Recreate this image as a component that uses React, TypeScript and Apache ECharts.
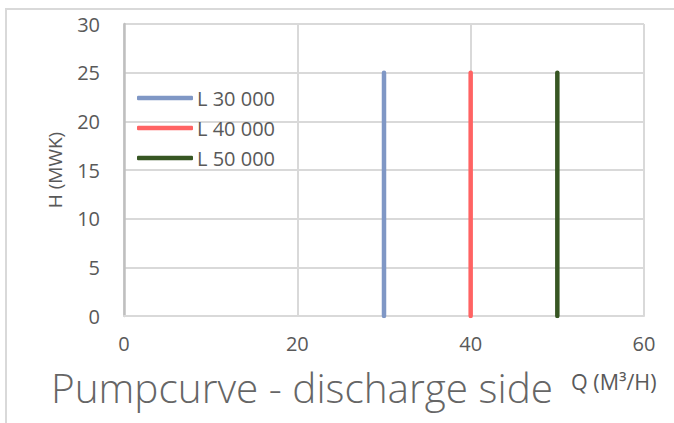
import React, { useEffect, useRef } from "react";
import * as echarts from "echarts";

const seriesNames = ["L 30 000", "L 40 000", "L 50 000"];
const seriesColors = ["#7f97c5", "#ff6363", "#375623"];
const flowValues = [30, 40, 50];
const headStart = [0, 0, 0];
const headEnd = [25, 25, 25];
const titleText = "Pumpcurve - discharge side";
const xAxisName = "Q (M³/H)";
const yAxisName = "H (MWK)";

const FONT = "'Open Sans', 'Liberation Sans', sans-serif";
const TEXT = "#595959";

export default function App() {
  const ref = useRef<HTMLDivElement>(null);
  useEffect(() => {
    if (!ref.current) return;
    const chart = echarts.init(ref.current, undefined, { renderer: "svg" });
    chart.setOption({
      animation: false,
      backgroundColor: "#ffffff",
      textStyle: { fontFamily: FONT },
      graphic: [
        {
          type: "rect",
          shape: { x: 6, y: 9, width: 720, height: 460 },
          style: { fill: "none", stroke: "#d9d9d9", lineWidth: 2 },
          silent: true,
          z: -10,
        },
      ],
      title: [
        {
          text: titleText,
          left: 51,
          top: 367,
          padding: 0,
          textStyle: { fontFamily: FONT, fontSize: 40.5, fontWeight: 300, color: "#666666" },
        },
        {
          text: xAxisName,
          left: 571,
          top: 370,
          padding: 0,
          textStyle: { fontFamily: FONT, fontSize: 21.5, fontWeight: "normal", color: TEXT },
        },
      ],
      legend: {
        orient: "vertical",
        left: 137,
        top: 88,
        padding: 0,
        itemWidth: 56,
        itemHeight: 4.5,
        itemGap: 10,
        icon: "roundRect",
        data: seriesNames,
        textStyle: { fontFamily: FONT, fontSize: 20, color: TEXT, padding: [0, 0, 0, -1] },
      },
      grid: { left: 124, top: 24, right: 30, bottom: 107, containLabel: false },
      xAxis: {
        type: "value",
        min: 0,
        max: 60,
        interval: 20,
        axisLine: { show: true, lineStyle: { color: "#d9d9d9", width: 2 } },
        axisTick: { show: false },
        splitLine: { show: true, lineStyle: { color: "#d9d9d9", width: 2 } },
        axisLabel: { fontFamily: FONT, fontSize: 20, color: TEXT, margin: 17 },
      },
      yAxis: {
        type: "value",
        min: 0,
        max: 30,
        interval: 5,
        name: yAxisName,
        nameLocation: "middle",
        nameRotate: 90,
        nameGap: 60,
        nameTextStyle: { fontFamily: FONT, fontSize: 19, color: TEXT },
        axisLine: { show: true, lineStyle: { color: "#bfbfbf", width: 2.5 } },
        axisTick: { show: false },
        splitLine: { show: true, lineStyle: { color: "#d9d9d9", width: 2 } },
        axisLabel: { fontFamily: FONT, fontSize: 20, color: TEXT, margin: 24 },
      },
      series: seriesNames.map((name, i) => ({
        name,
        type: "line",
        symbol: "none",
        color: seriesColors[i],
        lineStyle: { color: seriesColors[i], width: 4.5, cap: "round" },
        data: [
          [flowValues[i], headStart[i]],
          [flowValues[i], headEnd[i]],
        ],
      })),
    });
    return () => chart.dispose();
  }, []);
  return (
    <div
      ref={ref}
      style={{ position: "fixed", left: 0, top: 0, width: 674, height: 423 }}
    />
  );
}
